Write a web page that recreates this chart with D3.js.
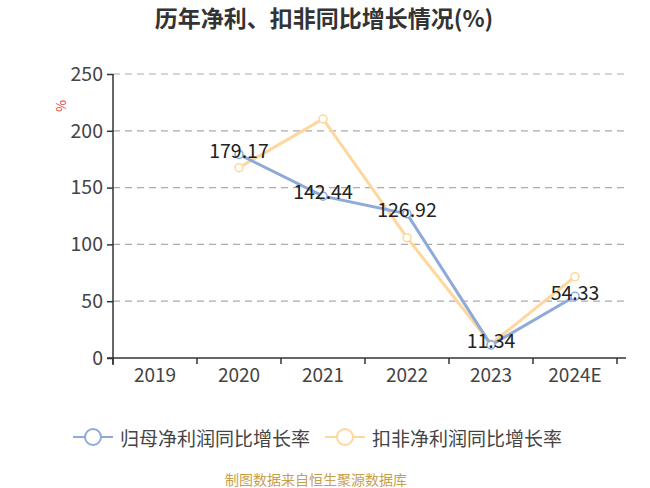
<!DOCTYPE html>
<html><head><meta charset="utf-8">
<script src="https://cdn.jsdelivr.net/npm/d3@7"></script>
<style>body{margin:0;background:#fff}svg{display:block}text{font-family:"Noto Sans CJK SC","Noto Sans",sans-serif}</style>
</head><body><svg id="c" width="650" height="488"></svg>
<script>
const categories = ["2019","2020","2021","2022","2023","2024E"];
const netProfitGrowth = [null,179.17,142.44,126.92,11.34,54.33];
const deductedGrowth = [null,167.5,210.4,105.9,12.3,71.6];
const yTicks = [0,50,100,150,200,250];
const seriesNames = ["归母净利润同比增长率","扣非净利润同比增长率"];
const colors = ["#8EAADB","#FFD69C"];

const svg = d3.select("#c");
const x = d3.scaleBand().domain(categories).range([113,617]);
const y = d3.scaleLinear().domain([0,250]).range([358,74]);

svg.append("text").attr("x",324).attr("y",27).attr("text-anchor","middle")
  .attr("font-size",23).attr("font-weight","bold").attr("fill","#333").text("历年净利、扣非同比增长情况(%)");

// grid
svg.append("g").selectAll("line").data(yTicks.filter(d=>d>0)).join("line")
  .attr("x1",113).attr("x2",626).attr("y1",d=>y(d)).attr("y2",d=>y(d))
  .attr("stroke","#aaa").attr("stroke-dasharray","7,5").attr("stroke-width",1.2);

// y axis
const ya = svg.append("g").attr("transform","translate(113,0)")
  .call(d3.axisLeft(y).tickValues(yTicks).tickSize(6).tickPadding(4));
ya.select(".domain").attr("stroke","#333").attr("stroke-width",1.5).attr("d","M0,74V365");
ya.selectAll(".tick line").attr("stroke","#333").attr("stroke-width",1.5);
ya.selectAll("text").attr("font-size",19.5).attr("fill","#444").attr("font-family","Noto Sans, sans-serif");

// x axis
const xa = svg.append("g").attr("transform","translate(0,358)")
  .call(d3.axisBottom(x).tickSize(0).tickPadding(11));
xa.select(".domain").attr("stroke","#333").attr("stroke-width",1.5).attr("d","M107,0H626");
xa.selectAll("text").attr("font-size",19).attr("fill","#444").attr("font-family","Noto Sans, sans-serif");
svg.append("g").selectAll("line").data(categories.map((c,i)=>x(c)).concat([x.range()[1]])).join("line")
  .attr("x1",d=>d).attr("x2",d=>d).attr("y1",358).attr("y2",364).attr("stroke","#333").attr("stroke-width",1.5);

// unit
svg.append("text").attr("transform","translate(62,106) rotate(-90)").attr("text-anchor","middle")
  .attr("dominant-baseline","middle").attr("font-size",13).attr("fill","#e33").text("%");

const cx = c => x(c)+x.bandwidth()/2;
const line = d3.line().defined(d=>d[1]!=null).x(d=>cx(d[0])).y(d=>y(d[1]));
[deductedGrowth, netProfitGrowth].forEach((vals,k)=>{
  const col = k===0?colors[1]:colors[0];
  const data = categories.map((c,i)=>[c,vals[i]]);
  svg.append("path").datum(data).attr("d",line).attr("fill","none").attr("stroke",col).attr("stroke-width",3);
  svg.append("g").selectAll("circle").data(data.filter(d=>d[1]!=null)).join("circle")
    .attr("cx",d=>cx(d[0])).attr("cy",d=>y(d[1])).attr("r",4).attr("fill","#fff").attr("stroke",col).attr("stroke-width",1.5);
});
svg.append("g").selectAll("text").data(categories.map((c,i)=>[c,netProfitGrowth[i]]).filter(d=>d[1]!=null)).join("text")
  .attr("x",d=>cx(d[0])).attr("y",d=>y(d[1])-2).attr("text-anchor","middle").attr("dominant-baseline","middle")
  .attr("font-size",19.5).attr("fill","#222").attr("font-family","Noto Sans, sans-serif").text(d=>d[1].toFixed(2));

// legend
const lg = [[73,seriesNames[0],colors[0]],[325,seriesNames[1],colors[1]]];
lg.forEach(([lx,name,col])=>{
  const g = svg.append("g");
  g.append("line").attr("x1",lx).attr("x2",lx+40).attr("y1",437).attr("y2",437).attr("stroke",col).attr("stroke-width",2);
  g.append("circle").attr("cx",lx+20).attr("cy",437).attr("r",8).attr("fill","#fff").attr("stroke",col).attr("stroke-width",2);
  g.append("text").attr("x",lx+47).attr("y",437).attr("dominant-baseline","central").attr("font-size",19).attr("fill","#444").text(name);
});

svg.append("text").attr("x",316).attr("y",479).attr("text-anchor","middle").attr("dominant-baseline","central")
  .attr("font-size",14).attr("fill","#C8A04C").text("制图数据来自恒生聚源数据库");
</script></body></html>
